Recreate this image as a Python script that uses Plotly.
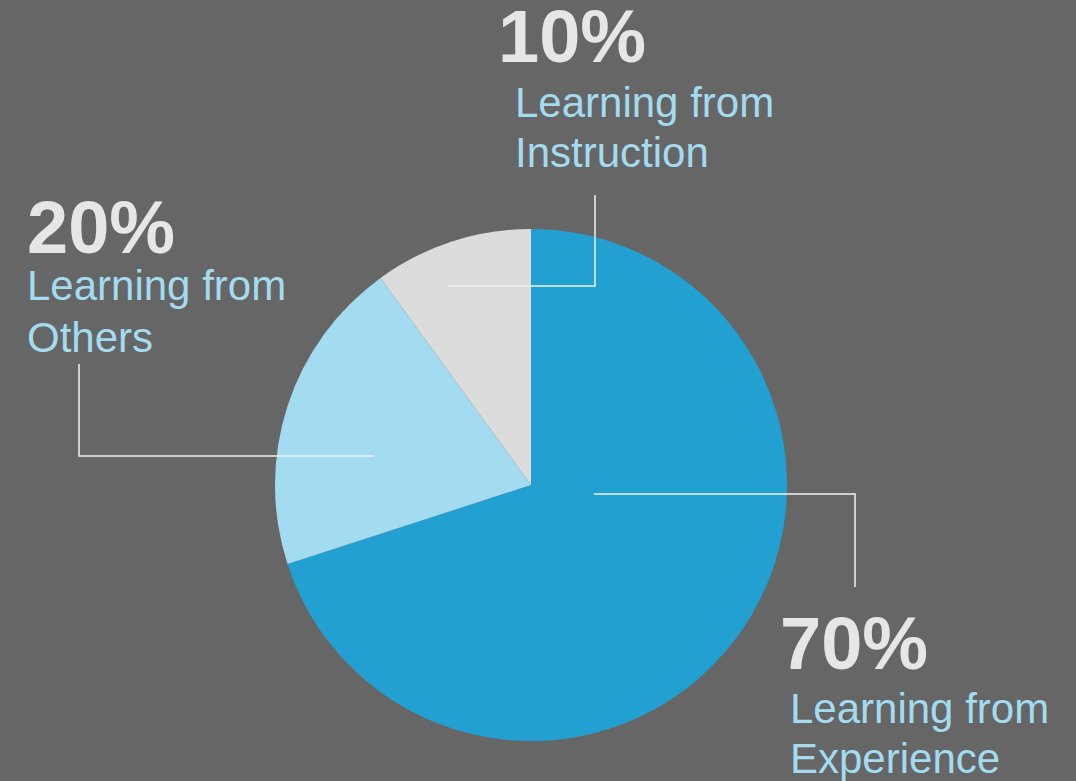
import plotly.graph_objects as go

W, H = 1076, 781

categories = ["Learning from Experience", "Learning from Others", "Learning from Instruction"]
values = [70, 20, 10]
pct_labels = ["70%", "20%", "10%"]
label_lines = [["Learning from", "Experience"], ["Learning from", "Others"], ["Learning from", "Instruction"]]
slice_colors = ["#22A0D2", "#A3DBF0", "#DCDCDC"]

BG = "#666666"
PCT_COLOR = "#E6E6E6"
LABEL_COLOR = "#A3DBF0"
LINE_COLOR = "#F2F2F2"
FONT = "Liberation Sans, Arial, sans-serif"


def px(x):
    return x / W


def py(y):
    return 1 - y / H


fig = go.Figure()
fig.add_trace(go.Pie(
    labels=categories,
    values=values,
    sort=False,
    direction="clockwise",
    rotation=0,
    marker=dict(colors=slice_colors, line=dict(width=0)),
    textinfo="none",
    hoverinfo="label+percent",
    showlegend=False,
    domain=dict(x=[px(275), px(787)], y=[py(741), py(229)]),
))

# annotation placement (pixel coords): percent (left, center y), label (left, center y of each line)
placements = [
    dict(pct=(777.5, 643.5), lab=(787.5, [708, 758])),
    dict(pct=(24.5, 227.5), lab=(24.5, [286, 337])),
    dict(pct=(495.5, 36), lab=(512.5, [102, 152])),
]

annotations = []
for i in range(len(values)):
    p = placements[i]
    annotations.append(dict(
        x=px(p["pct"][0]), y=py(p["pct"][1]), xref="paper", yref="paper",
        xanchor="left", yanchor="middle", showarrow=False,
        text="<b>" + pct_labels[i] + "</b>",
        font=dict(family=FONT, size=74, color=PCT_COLOR),
    ))
    lx, ys = p["lab"]
    for line_text, ly in zip(label_lines[i], ys):
        annotations.append(dict(
            x=px(lx), y=py(ly), xref="paper", yref="paper",
            xanchor="left", yanchor="middle", showarrow=False, align="left",
            text=line_text,
            font=dict(family=FONT, size=42, color=LABEL_COLOR),
        ))

leaders = [
    [(594, 494), (855, 494), (855, 587)],
    [(374, 456), (79, 456), (79, 364)],
    [(448, 286), (595, 286), (595, 195)],
]
shapes = []
for pts in leaders:
    path = "M " + " L ".join(f"{px(x)},{py(y)}" for x, y in pts)
    shapes.append(dict(type="path", xref="paper", yref="paper", path=path,
                       line=dict(color=LINE_COLOR, width=1.5)))

fig.update_layout(
    width=W, height=H,
    margin=dict(l=0, r=0, t=0, b=0),
    paper_bgcolor=BG, plot_bgcolor=BG,
    annotations=annotations,
    shapes=shapes,
    font=dict(family=FONT),
)

fig.write_html("out.html", config={"displayModeBar": False})
